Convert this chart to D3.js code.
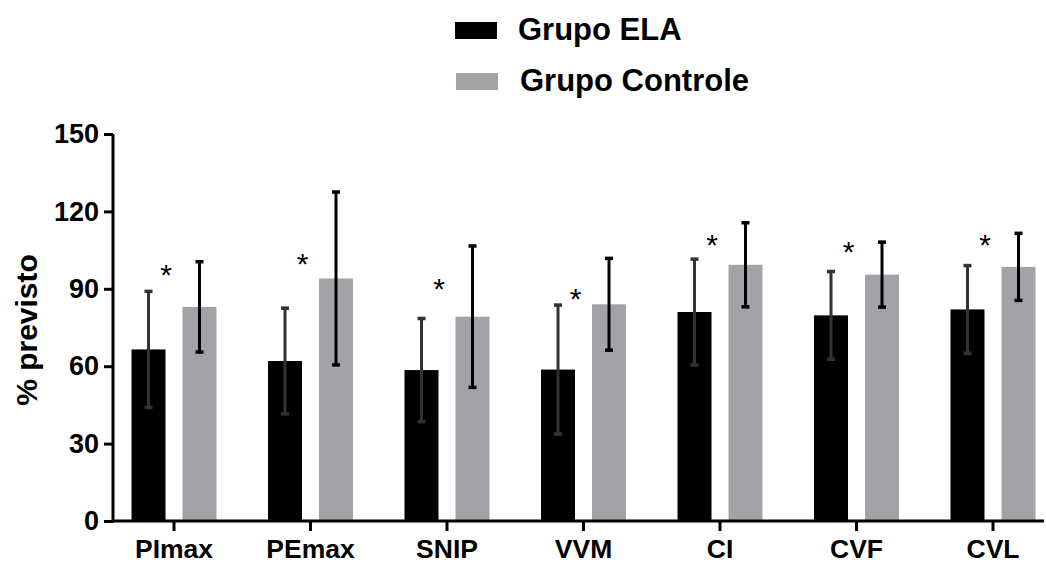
<!DOCTYPE html>
<html>
<head>
<meta charset="utf-8">
<script src="https://cdn.jsdelivr.net/npm/d3@7"></script>
<style>
  html, body { margin: 0; padding: 0; background: #fff; }
  svg { display: block; font-family: "Liberation Sans", Arial, sans-serif; }
</style>
</head>
<body>
<svg id="chart" width="1046" height="565"></svg>
<script>
// Respiratory function, % of predicted (mean ± SD)
const categories = ["PImax", "PEmax", "SNIP", "VVM", "CI", "CVF", "CVL"];
const groups = ["Grupo ELA", "Grupo Controle"];
const elaMean = [66.5, 62, 58.5, 58.7, 81, 79.7, 82];
const elaSD = [22.5, 20.5, 20, 25, 20.5, 17, 17];
const controlMean = [83, 94, 79.2, 84, 99.3, 95.5, 98.5];
const controlSD = [17.5, 33.5, 27.4, 17.8, 16.3, 12.6, 13];
// significance marker height (% previsto)
const starLevel = [98, 102.4, 92.5, 88.9, 109.8, 107, 109.6];
const yTicks = [0, 30, 60, 90, 120, 150];

const colors = { "Grupo ELA": "#000000", "Grupo Controle": "#a3a2a6" };
const errColors = { "Grupo ELA": "#333333", "Grupo Controle": "#000000" };

const svg = d3.select("#chart");

const y = d3.scaleLinear().domain([0, 150]).range([521, 134]);
const x = d3.scaleBand().domain(categories).range([105.75, 1061.25]).padding(0);
const x1 = d3.scaleBand().domain(groups).range([-42.5, 42.5]).paddingInner(1 / 3);

const rows = categories.map((c, i) => ({
  cat: c,
  star: starLevel[i],
  bars: [
    { g: "Grupo ELA", mean: elaMean[i], sd: elaSD[i] },
    { g: "Grupo Controle", mean: controlMean[i], sd: controlSD[i] }
  ]
}));

const center = c => x(c) + x.bandwidth() / 2;

// bars
const grp = svg.append("g").selectAll("g").data(rows).join("g")
  .attr("transform", d => `translate(${center(d.cat)},0)`);

grp.selectAll("rect").data(d => d.bars).join("rect")
  .attr("x", d => x1(d.g))
  .attr("width", x1.bandwidth())
  .attr("y", d => y(d.mean))
  .attr("height", d => y(0) - y(d.mean))
  .attr("fill", d => colors[d.g]);

// error bars
const eb = grp.selectAll("g.err").data(d => d.bars).join("g").attr("class", "err")
  .attr("stroke", d => errColors[d.g]);
eb.append("line")
  .attr("x1", d => x1(d.g) + x1.bandwidth() / 2)
  .attr("x2", d => x1(d.g) + x1.bandwidth() / 2)
  .attr("y1", d => y(d.mean + d.sd))
  .attr("y2", d => y(d.mean - d.sd))
  .attr("stroke-width", 3);
[1, -1].forEach(s => {
  eb.append("line")
    .attr("x1", d => x1(d.g) + x1.bandwidth() / 2 - 4)
    .attr("x2", d => x1(d.g) + x1.bandwidth() / 2 + 4)
    .attr("y1", d => y(d.mean + s * d.sd))
    .attr("y2", d => y(d.mean + s * d.sd))
    .attr("stroke-width", 3.5);
});

// significance asterisks
grp.append("text")
  .attr("x", -8)
  .attr("y", d => y(d.star) + 17)
  .attr("text-anchor", "middle")
  .attr("font-size", 30)
  .attr("fill", "#000")
  .text("*");

// y axis
const yAxis = svg.append("g").attr("transform", "translate(113,0)")
  .call(d3.axisLeft(y).tickValues(yTicks).tickSize(9).tickPadding(5));
yAxis.select(".domain").attr("d", `M0,${y(150)}V${y(0) + 1.5}`).attr("stroke-width", 3);
yAxis.selectAll(".tick line").attr("stroke-width", 3);
yAxis.selectAll(".tick text").attr("font-size", 27).attr("font-weight", "bold")
  .attr("font-family", "Liberation Sans, Arial, sans-serif").attr("fill", "#000");

// x axis
const xAxis = svg.append("g").attr("transform", `translate(0,${y(0)})`)
  .call(d3.axisBottom(x).tickSize(10).tickPadding(8));
xAxis.select(".domain").attr("d", "M111.5,0H1044").attr("stroke-width", 3);
xAxis.selectAll(".tick line").attr("stroke-width", 3);
xAxis.selectAll(".tick text").attr("font-size", 26.5).attr("font-weight", "bold")
  .attr("font-family", "Liberation Sans, Arial, sans-serif").attr("fill", "#000");

// y label
svg.append("text")
  .attr("transform", "translate(37,330) rotate(-90)")
  .attr("text-anchor", "middle")
  .attr("font-size", 30)
  .attr("font-weight", "bold")
  .text("% previsto");

// legend
const legend = svg.append("g").selectAll("g").data(groups).join("g")
  .attr("transform", (d, i) => `translate(455,${22 + i * 51})`);
legend.append("rect")
  .attr("x", (d, i) => i)
  .attr("width", 42).attr("height", 17)
  .attr("fill", d => colors[d]);
legend.append("text")
  .attr("x", (d, i) => 63 + i * 2)
  .attr("y", 18)
  .attr("font-size", 31)
  .attr("font-weight", "bold")
  .text(d => d);
</script>
</body>
</html>
